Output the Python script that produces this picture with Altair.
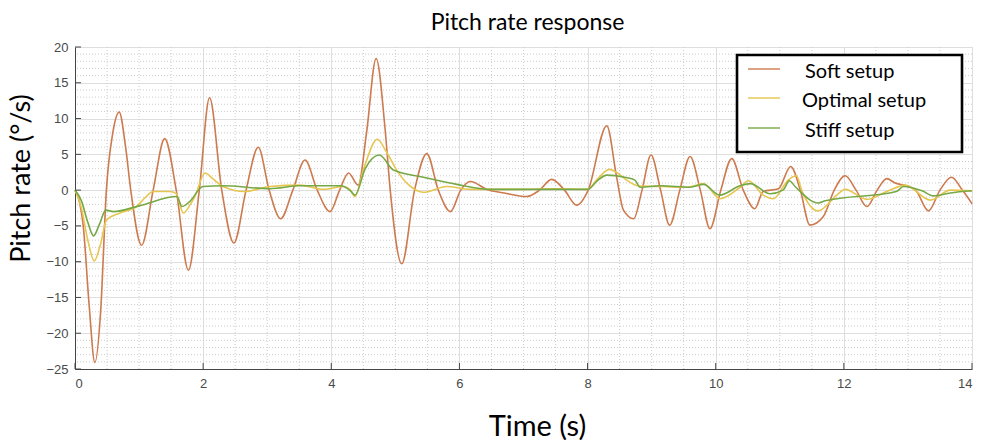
import altair as alt
import numpy as np
import pandas as pd

# ---- series data: time (s) and pitch rate (deg/s) ----
soft_t = [0.00, 0.05, 0.13, 0.22, 0.31, 0.40, 0.49, 0.59, 0.69, 0.79, 0.87, 1.04, 1.22, 1.40,
          1.58, 1.77, 1.94, 2.10, 2.29, 2.48, 2.67, 2.86, 3.03, 3.21, 3.40, 3.59, 3.78, 3.98,
          4.13, 4.27, 4.42, 4.55, 4.70, 4.84, 4.92, 5.10, 5.30, 5.49, 5.67, 5.86, 6.02, 6.17,
          6.43, 6.70, 7.05, 7.25, 7.44, 7.64, 7.83, 8.01, 8.30, 8.45, 8.56, 8.72, 8.85, 8.99,
          9.14, 9.28, 9.44, 9.60, 9.76, 9.91, 10.08, 10.25, 10.43, 10.61, 10.74, 10.98, 11.17,
          11.32, 11.47, 11.68, 11.85, 12.02, 12.19, 12.36, 12.52, 12.67, 12.80, 12.93, 13.12,
          13.32, 13.50, 13.68, 13.85, 14.00]
soft_v = [0.0, -1.0, -5.1, -16.0, -24.1, -17.0, 0.0, 8.0, 10.9, 6.0, 0.0, -7.7, 0.0, 7.2,
          0.0, -11.2, 0.0, 12.9, 0.0, -7.4, 0.0, 6.0, 0.0, -4.0, 0.0, 4.2, 0.0, -3.0,
          0.0, 2.4, 0.7, 8.0, 18.4, 8.5, 0.0, -10.3, 0.0, 5.1, 0.0, -3.0, 0.0, 1.2,
          0.1, -0.4, -0.9, 0.0, 1.5, 0.0, -2.1, 0.0, 9.0, 2.0, -2.8, -4.0, 0.0, 4.9,
          0.0, -4.9, 0.0, 4.7, 0.0, -5.4, 0.0, 4.4, 0.0, -2.6, -0.2, 0.2, 3.3,
          0.0, -4.9, -3.7, 0.0, 2.0, 0.0, -2.3, 0.0, 1.6, 1.0, 0.7, 0.0,
          -2.9, 0.0, 1.8, 0.0, -1.9]

optimal_t = [0.00, 0.10, 0.20, 0.30, 0.40, 0.49, 0.70, 0.96, 1.10, 1.22, 1.48, 1.58, 1.69, 1.80,
             1.87, 2.03, 2.15, 2.31, 2.65, 3.04, 3.51, 3.88, 4.19, 4.30, 4.37, 4.50, 4.72, 4.85,
             5.02, 5.20, 5.44, 5.80, 6.17, 6.95, 7.50, 8.00, 8.15, 8.34, 8.48, 8.61, 8.79, 9.18,
             9.55, 9.81, 10.07, 10.38, 10.51, 10.74, 10.90, 11.13, 11.26, 11.34, 11.60, 11.89,
             12.02, 12.36, 12.67, 12.96, 13.35, 13.66, 14.00]
optimal_v = [0.0, -2.5, -7.0, -9.9, -7.5, -4.2, -3.2, -2.3, -1.0, -0.2, -0.2, -0.5, -3.2, -2.0,
             -0.9, 2.4, 1.6, 0.5, -0.2, 0.5, 0.7, 0.1, 0.5, 0.0, -0.9, 2.8, 7.1, 5.5,
             2.8, 0.8, -0.3, 0.5, 0.1, 0.1, 0.2, 0.1, 1.5, 2.9, 2.3, 1.4, 0.6, 0.5,
             0.4, 0.9, -1.2, 0.4, 1.3, -0.7, -1.2, 1.4, 2.0, 0.0, -2.9, -0.7,
             0.1, -1.3, -0.2, 0.7, -1.4, 0.0, -0.1]

stiff_t = [0.00, 0.10, 0.20, 0.29, 0.38, 0.48, 0.60, 1.00, 1.59, 1.67, 1.79, 2.00, 2.31, 3.04,
           3.51, 4.14, 4.30, 4.37, 4.53, 4.75, 4.97, 5.44, 5.96, 6.48, 7.50, 8.00, 8.15, 8.30,
           8.58, 8.74, 8.82, 9.15, 9.60, 9.81, 10.06, 10.38, 10.54, 10.85, 11.05, 11.15, 11.24,
           11.60, 11.71, 12.82, 12.93, 13.22, 13.40, 13.66, 14.00]
stiff_v = [0.0, -1.5, -4.5, -6.4, -4.8, -2.8, -3.0, -2.2, -0.9, -2.3, -1.6, 0.5, 0.6, 0.2,
           0.6, 0.6, -0.1, -0.7, 3.0, 4.9, 2.8, 1.8, 0.8, 0.1, 0.1, 0.1, 1.3, 2.1,
           1.8, 1.4, 0.4, 0.6, 0.4, 0.8, -0.7, 0.6, 0.9, -0.5, 0.0, 1.3, 0.5,
           -1.8, -1.5, -0.2, 0.5, -0.1, -0.8, -0.4, -0.1]

series_names = ["Soft setup", "Optimal setup", "Stiff setup"]
series_colors = ["#cd7a4f", "#e6c651", "#77a846"]
series_data = [(soft_t, soft_v), (optimal_t, optimal_v), (stiff_t, stiff_v)]

x_ticks = [0, 2, 4, 6, 8, 10, 12, 14]
y_ticks = [-25, -20, -15, -10, -5, 0, 5, 10, 15, 20]

# ---- layout ----
W, H = 897, 322
LABEL_FONT = "Liberation Sans"
TEXT_FONT = "Lato"

x_scale = alt.Scale(domain=[0, 14], nice=False, zero=False)
y_scale = alt.Scale(domain=[-25, 20], nice=False, zero=False)

x_axis = alt.Axis(values=x_ticks, title="Time (s)", grid=True, gridColor="#dedede",
                  ticks=False, tickSize=0, domainColor="#444444", labelFont=LABEL_FONT,
                  labelFontSize=13, labelColor="#4a4a4a", labelPadding=8,
                  titleFont=TEXT_FONT, titleFontSize=29, titleFontWeight="normal",
                  titleColor="black", titlePadding=22, titleX=462)
y_axis = alt.Axis(values=y_ticks, title="Pitch rate (°/s)", grid=True, gridColor="#dedede",
                  ticks=False, tickSize=0, domainColor="#444444", labelFont=LABEL_FONT,
                  labelFontSize=13, labelColor="#4a4a4a", labelPadding=7,
                  titleFont=TEXT_FONT, titleFontSize=27, titleFontWeight="normal",
                  titleColor="black", titlePadding=10, titleY=131)

X = lambda: alt.X("t:Q", scale=x_scale, axis=x_axis)
Y = lambda: alt.Y("v:Q", scale=y_scale, axis=y_axis)

# minor dotted grid between the major lines
minor_x = pd.DataFrame({"t": [t for t in np.arange(0, 14.001, 0.5) if t % 2 != 0]})
minor_y = pd.DataFrame({"v": [v for v in np.arange(-25, 20.001, 1.0) if v % 5 != 0]})

grid_x = alt.Chart(minor_x).mark_rule(color="#cccccc", strokeDash=[1, 2], strokeWidth=1).encode(x=X())
grid_y = alt.Chart(minor_y).mark_rule(color="#cccccc", strokeDash=[1, 2], strokeWidth=1).encode(y=Y())

# inward tick marks
tick_left = alt.Chart(pd.DataFrame({"v": y_ticks})).mark_rule(color="#444444", strokeWidth=1).encode(
    y=Y(), x=alt.value(0), x2=alt.value(6))
tick_bottom = alt.Chart(pd.DataFrame({"t": x_ticks})).mark_rule(color="#444444", strokeWidth=1).encode(
    x=X(), y=alt.value(H), y2=alt.value(H - 6))

layers = [grid_x, grid_y]
for name, color, (ts, vs) in zip(series_names, series_colors, series_data):
    df = pd.DataFrame({"t": ts, "v": vs, "series": name})
    layers.append(
        alt.Chart(df).mark_line(interpolate="monotone", strokeWidth=1.6, color=color).encode(x=X(), y=Y())
    )
layers += [tick_left, tick_bottom]

# legend box
one = pd.DataFrame({"k": [0]})
layers.append(
    alt.Chart(one).mark_rect(fill="white", stroke="black", strokeWidth=2.6).encode(
        x=alt.value(662), x2=alt.value(887), y=alt.value(8), y2=alt.value(105))
)
legend_rows = [22, 51, 81]
legend_text_x = [730, 727, 730]
for name, color, row, tx in zip(series_names, series_colors, legend_rows, legend_text_x):
    layers.append(
        alt.Chart(one).mark_rule(color=color, strokeWidth=2, opacity=0.7).encode(
            x=alt.value(673), x2=alt.value(705), y=alt.value(row))
    )
    layers.append(
        alt.Chart(one).mark_text(align="left", baseline="middle", font=TEXT_FONT, fontSize=20,
                                 color="black").encode(
            x=alt.value(tx), y=alt.value(row + 3), text=alt.value(name))
    )

chart = alt.layer(*layers).properties(
    width=W, height=H,
    title=alt.TitleParams("Pitch rate response", font=TEXT_FONT, fontSize=23,
                          fontWeight="normal", color="black", anchor="middle", offset=6,
                          dx=4),
    autosize=alt.AutoSizeParams(type="none"),
    padding={"left": 75, "top": 47, "right": 10, "bottom": 74},
).configure_view(stroke="#d6d6d6", strokeWidth=1).configure(background="white")

chart.save("out.html", embed_options={"renderer": "svg", "actions": False})
